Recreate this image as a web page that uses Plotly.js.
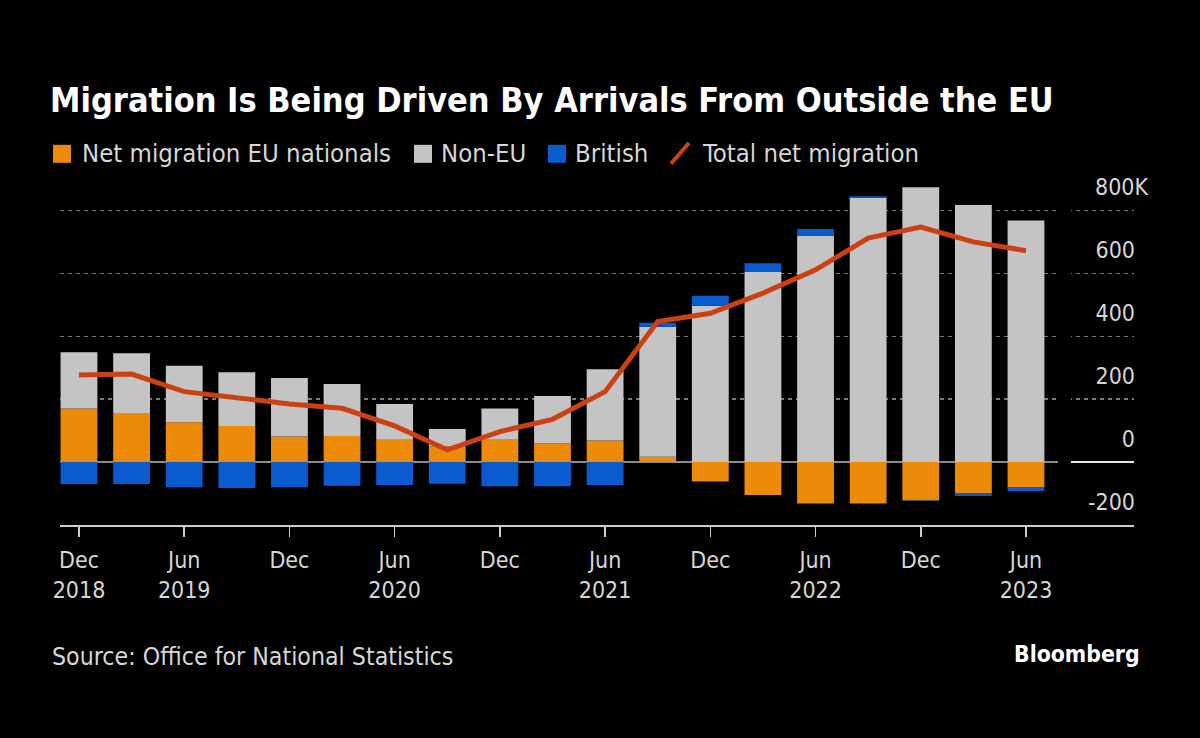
<!DOCTYPE html>
<html>
<head>
<meta charset="utf-8">
<script src="https://cdn.plot.ly/plotly-3.0.1.min.js"></script>
<style>html,body{margin:0;padding:0;background:#000;}#chart{width:1200px;height:738px;}</style>
</head>
<body>
<div id="chart"></div>
<script>
// ---- Data (thousands) ----
const periods = ['Dec 2018','Mar 2019','Jun 2019','Sep 2019','Dec 2019','Mar 2020','Jun 2020','Sep 2020','Dec 2020','Mar 2021','Jun 2021','Sep 2021','Dec 2021','Mar 2022','Jun 2022','Sep 2022','Dec 2022','Mar 2023','Jun 2023'];
const euNationals = [170, 156, 127, 115, 81, 83, 71, 50, 71, 60, 69, 17, -62, -105, -132, -132, -122, -98, -81];
const nonEU = [179, 190, 179, 171, 186, 165, 114, 55, 99, 150, 226, 413, 497, 604, 719, 840, 874, 817, 768];
const british = [-70, -70, -80, -82, -80, -75, -73, -69, -77, -77, -73, 13, 32, 28, 22, 5, -2, -10, -11];
const totalNet = [277, 280, 224, 203, 185, 171, 115, 39, 97, 136, 224, 447, 473, 537, 611, 712, 747, 700, 672];
const xTickVals = ['Dec 2018','Jun 2019','Dec 2019','Jun 2020','Dec 2020','Jun 2021','Dec 2021','Jun 2022','Dec 2022','Jun 2023'];
const xTickText = ['Dec<br>2018','Jun<br>2019','Dec','Jun<br>2020','Dec','Jun<br>2021','Dec','Jun<br>2022','Dec','Jun<br>2023'];
const yTickVals = [-200, 0, 200, 400, 600, 800];
const yTickText = ['-200', '0', '200', '400', '600', ''];

const COL_EU = '#EC8A0A', COL_NON = '#C4C4C4', COL_BR = '#0A5AD0', COL_LINE = '#CC4114';
const FONT = 'DejaVu Sans Condensed, DejaVu Sans, sans-serif';
const TXT = '#d6d6d6';

// plot area in pixels
const L = 60, R = 1134, T = 179.2, B = 525.5;
const px = x => (x - L) / (R - L);
const py = y => (B - y) / (B - T);

const traces = [
  {type:'bar', name:'Net migration EU nationals', x:periods, y:euNationals, marker:{color:COL_EU}, hoverinfo:'skip'},
  {type:'bar', name:'Non-EU', x:periods, y:nonEU, marker:{color:COL_NON}, hoverinfo:'skip'},
  {type:'bar', name:'British', x:periods, y:british, marker:{color:COL_BR}, hoverinfo:'skip'},
  {type:'scatter', mode:'lines', name:'Total net migration', x:periods, y:totalNet, line:{color:COL_LINE, width:5}, hoverinfo:'skip'}
];

const legendItems = [
  {label:'Net migration EU nationals', color:COL_EU, x0:53, tx:80},
  {label:'Non-EU', color:COL_NON, x0:414, tx:439},
  {label:'British', color:COL_BR, x0:548, tx:573}
];
const shapes = [];
const annotations = [];
legendItems.forEach(it => {
  shapes.push({type:'rect', xref:'paper', yref:'paper', x0:px(it.x0), x1:px(it.x0+18), y0:py(163), y1:py(145), fillcolor:it.color, line:{width:0}});
  annotations.push({xref:'paper', yref:'paper', x:px(it.tx), y:py(153), xanchor:'left', yanchor:'middle', text:it.label, showarrow:false, font:{family:FONT, size:25.5, color:TXT}});
});
shapes.push({type:'line', xref:'paper', yref:'paper', x0:px(671), y0:py(164), x1:px(689), y1:py(143), line:{color:COL_LINE, width:4}});
annotations.push({xref:'paper', yref:'paper', x:px(700), y:py(153), xanchor:'left', yanchor:'middle', text:'Total net migration', showarrow:false, font:{family:FONT, size:25.5, color:TXT}});
// gap in gridlines before labels
shapes.push({type:'rect', xref:'paper', yref:'paper', x0:px(1058), x1:px(1071), y0:py(500), y1:1, fillcolor:'#000', line:{width:0}, layer:'above'});
shapes.push({type:'line', xref:'paper', yref:'y', x0:px(1071), x1:px(1134), y0:0, y1:0, line:{color:'#e6e6e6', width:2}, layer:'above'});
// 800K label
annotations.push({xref:'paper', yref:'paper', x:px(1150), y:py(187), xanchor:'right', yanchor:'middle', text:'800K', showarrow:false, font:{family:FONT, size:23, color:TXT}});
// source & brand
annotations.push({xref:'paper', yref:'paper', x:px(50), y:py(657), xanchor:'left', yanchor:'middle', text:'Source: Office for National Statistics', showarrow:false, font:{family:FONT, size:24.7, color:TXT}});
annotations.push({xref:'paper', yref:'paper', x:px(1142), y:py(655), xanchor:'right', yanchor:'middle', text:'<b>Bloomberg</b>', showarrow:false, font:{family:FONT, size:22.8, color:'#ffffff'}});

const layout = {
  width:1200, height:738,
  paper_bgcolor:'#000', plot_bgcolor:'#000',
  margin:{l:L, r:1200-R, t:T, b:738-B, pad:0},
  showlegend:false,
  barmode:'relative', bargap:0.3,
  title:{text:'<b>Migration Is Being Driven By Arrivals From Outside the EU</b>', xref:'container', yref:'container', x:50/1200, xanchor:'left', y:1-100/738, yanchor:'middle', font:{family:FONT, size:34, color:'#ffffff'}},
  xaxis:{type:'category', range:[-0.361, 20.053], tickvals:xTickVals, ticktext:xTickText, ticks:'outside', ticklen:10, tickwidth:1.5, tickcolor:'#cccccc',
         showline:true, linecolor:'#cccccc', linewidth:2, showgrid:false, zeroline:false, ticklabelstandoff:3, tickfont:{family:FONT, size:23, color:TXT}, fixedrange:true},
  yaxis:{range:[-200, 900], side:'right', tickvals:yTickVals, ticktext:yTickText, ticklabelposition:'inside top', ticks:'', ticklabelshift:-7, ticklabelstandoff:-4,
         showgrid:true, gridcolor:'#7a7a7a', gridwidth:1.5, griddash:'4px,4px', zeroline:true, zerolinecolor:'#8a8a8a', zerolinewidth:1.5,
         showline:false, tickfont:{family:FONT, size:23, color:TXT}, ticklabeloverflow:'allow', fixedrange:true},
  shapes:shapes, annotations:annotations
};
Plotly.newPlot('chart', traces, layout, {displayModeBar:false, staticPlot:true});
</script>
</body>
</html>
